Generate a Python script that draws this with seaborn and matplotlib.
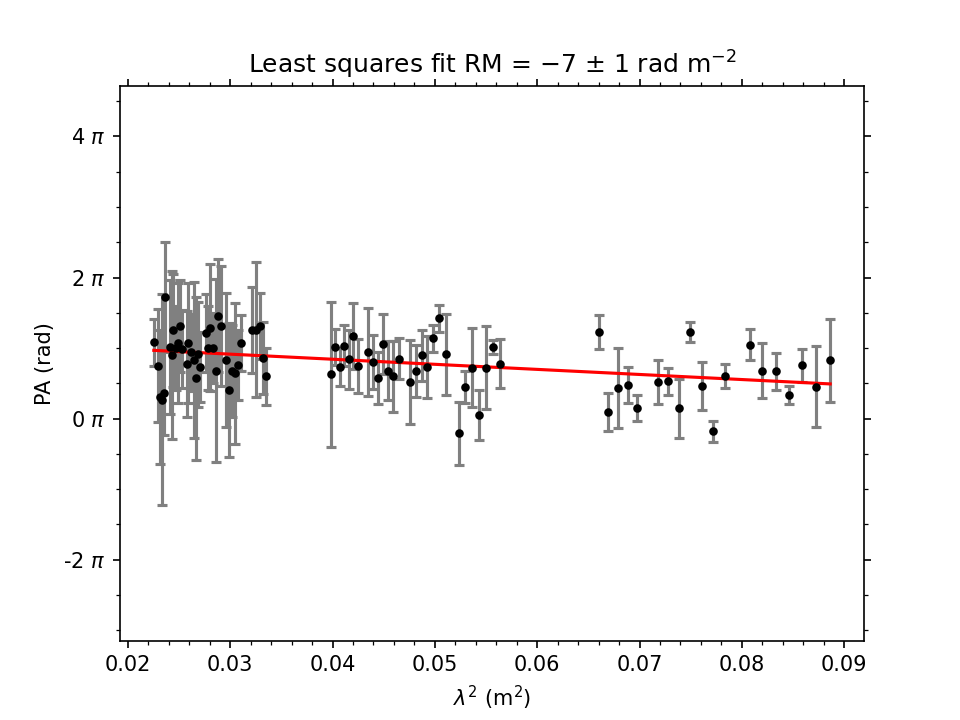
import numpy as np
import pandas as pd
import matplotlib
matplotlib.use("Agg")
import matplotlib.pyplot as plt
from matplotlib.ticker import MultipleLocator, FuncFormatter
import seaborn as sns

# lambda^2 (m^2)
lam2 = [
    0.02254, 0.02290, 0.02315, 0.02335, 0.02352, 0.02366, 0.02410, 0.02430,
    0.02445, 0.02470, 0.02490, 0.02510, 0.02530, 0.02575, 0.02590, 0.02620,
    0.02643, 0.02666, 0.02686, 0.02708, 0.02760, 0.02780, 0.02806, 0.02832,
    0.02858, 0.02881, 0.02910, 0.02962, 0.02989, 0.03018, 0.03047, 0.03077,
    0.03106, 0.03216, 0.03255, 0.03288, 0.03317, 0.03350,
    0.03985, 0.04027, 0.04070, 0.04112, 0.04157, 0.04203, 0.04252, 0.04343,
    0.04392, 0.04440, 0.04490, 0.04540, 0.04594, 0.04646, 0.04753, 0.04815,
    0.04870, 0.04923, 0.04985, 0.05043, 0.05105, 0.05232, 0.05294, 0.05362,
    0.05430, 0.05495, 0.05564, 0.05636,
    0.06600, 0.06694, 0.06785, 0.06883, 0.06980, 0.07180, 0.07283, 0.07388,
    0.07498, 0.07609, 0.07720, 0.07837, 0.08075, 0.08199, 0.08329, 0.08456,
    0.08589, 0.08726, 0.08863,
]
# polarization angle, in units of pi rad
pa_pi = [
    1.08, 0.75, 0.30, 0.27, 0.37, 1.72, 1.02, 0.90,
    1.25, 1.00, 1.07, 1.31, 0.99, 0.77, 1.07, 0.94,
    0.83, 0.57, 0.91, 0.73, 1.21, 1.00, 1.29, 1.00,
    0.68, 1.46, 1.31, 0.83, 0.41, 0.68, 0.64, 0.76,
    1.07, 1.25, 1.26, 1.31, 0.86, 0.60,
    0.63, 1.015, 0.73, 1.035, 0.84, 1.167, 0.745, 0.944,
    0.80, 0.58, 1.06, 0.68, 0.60, 0.85, 0.52, 0.68,
    0.90, 0.73, 1.14, 1.42, 0.91, -0.21, 0.45, 0.72,
    0.05, 0.72, 1.015, 0.78,
    1.224, 0.10, 0.437, 0.475, 0.147, 0.517, 0.53, 0.147,
    1.224, 0.465, -0.18, 0.60, 1.05, 0.68, 0.67, 0.337,
    0.754, 0.455, 0.825,
]
# error, in units of pi rad
err_pi = [
    0.33, 0.80, 0.95, 1.50, 0.60, 0.78, 0.95, 1.19,
    0.80, 0.60, 0.85, 0.65, 0.55, 0.75, 0.85, 0.55,
    1.10, 1.15, 0.75, 0.50, 0.55, 0.60, 0.90, 0.50,
    1.30, 0.80, 0.85, 0.95, 0.95, 0.65, 1.00, 0.50,
    0.40, 0.61, 0.96, 0.47, 0.51, 0.40,
    1.03, 0.25, 0.27, 0.29, 0.42, 0.47, 0.38, 0.63,
    0.38, 0.37, 0.43, 0.42, 0.50, 0.29, 0.60, 0.37,
    0.36, 0.44, 0.19, 0.19, 0.57, 0.45, 0.23, 0.56,
    0.35, 0.59, 0.10, 0.35,
    0.24, 0.27, 0.565, 0.25, 0.185, 0.31, 0.19, 0.415,
    0.14, 0.34, 0.15, 0.17, 0.22, 0.39, 0.26, 0.13,
    0.23, 0.57, 0.59,
]
# fitted line (in units of pi rad): PA = intercept + slope * lambda^2
fit_intercept_pi = 1.13
fit_slope_pi = -7.2

df = pd.DataFrame({
    "lam2": lam2,
    "pa": np.array(pa_pi) * np.pi,
    "err": np.array(err_pi) * np.pi,
})
xfit = np.array([df["lam2"].min(), df["lam2"].max()])
fit = pd.DataFrame({"lam2": xfit, "pa": (fit_intercept_pi + fit_slope_pi * xfit) * np.pi})

fig, ax = plt.subplots(figsize=(6.4, 4.8), dpi=150)

ax.errorbar(df["lam2"], df["pa"], yerr=df["err"], fmt="none", ecolor="gray",
            elinewidth=1.5, capsize=2.5, capthick=1.5, zorder=1)
sns.lineplot(data=fit, x="lam2", y="pa", color="red", linewidth=1.5, ax=ax, zorder=2)
sns.scatterplot(data=df, x="lam2", y="pa", color="black", s=17, linewidth=0, ax=ax, zorder=3)

ax.set_ylim(-3.15 * np.pi, 4.71 * np.pi)
ax.yaxis.set_major_locator(MultipleLocator(2 * np.pi))
ax.yaxis.set_minor_locator(MultipleLocator(np.pi / 2))
ax.yaxis.set_major_formatter(FuncFormatter(lambda v, p: f"{int(round(v / np.pi))} $\\pi$"))
ax.xaxis.set_major_locator(MultipleLocator(0.01))
ax.xaxis.set_minor_locator(MultipleLocator(0.002))
ax.xaxis.set_major_formatter(FuncFormatter(lambda v, p: f"{v:.2f}"))
ax.tick_params(which="both", direction="out", top=True, right=True)

ax.set_xlabel(r"$\lambda^2$ (m$^2$)")
ax.set_ylabel("PA (rad)")
ax.set_title("Least squares fit RM = \u22127 \u00b1 1 rad m$^{-2}$")

fig.savefig("out.png", dpi=150)
